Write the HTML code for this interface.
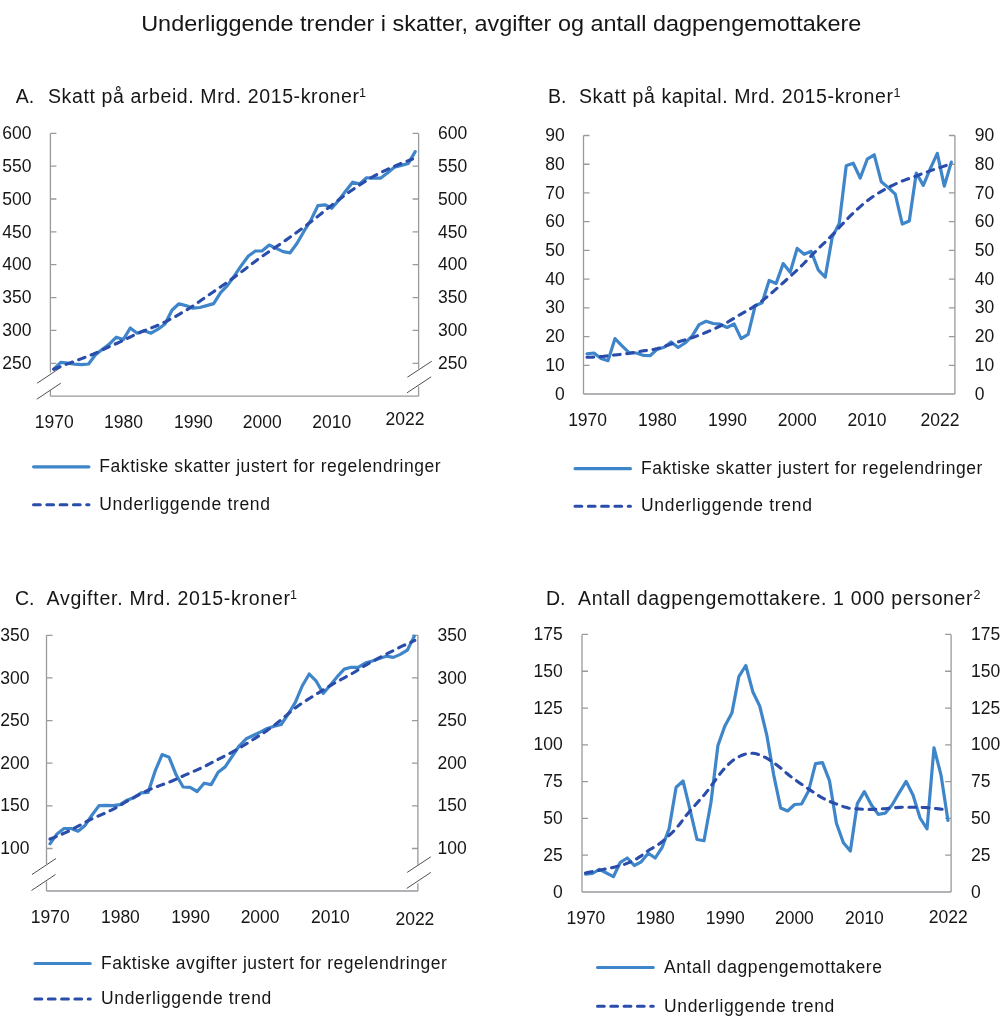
<!DOCTYPE html>
<html><head><meta charset="utf-8"><title>Underliggende trender</title>
<style>html,body{margin:0;padding:0;background:#fff;} svg{display:block;will-change:transform;}</style>
</head><body>
<svg width="1000" height="1029" viewBox="0 0 1000 1029">
<rect width="1000" height="1029" fill="#ffffff"/>
<g font-family='"Liberation Sans", sans-serif' fill="#161616">
<text x="141.2" y="31.0" font-size="22" text-anchor="start" textLength="720.2" lengthAdjust="spacingAndGlyphs">Underliggende trender i skatter, avgifter og antall dagpengemottakere</text>
<text x="15.8" y="102.8" font-size="19.5" text-anchor="start">A.</text>
<text x="48.0" y="102.8" font-size="19.5" text-anchor="start" textLength="311" lengthAdjust="spacing">Skatt på arbeid. Mrd. 2015-kroner</text>
<text x="359.0" y="96.5" font-size="12.5" text-anchor="start">1</text>
<text x="548.0" y="102.8" font-size="19.5" text-anchor="start">B.</text>
<text x="579.0" y="102.8" font-size="19.5" text-anchor="start" textLength="314" lengthAdjust="spacing">Skatt på kapital. Mrd. 2015-kroner</text>
<text x="893.5" y="96.5" font-size="12.5" text-anchor="start">1</text>
<text x="15.0" y="605.0" font-size="19.5" text-anchor="start">C.</text>
<text x="46.6" y="605.0" font-size="19.5" text-anchor="start" textLength="243.4" lengthAdjust="spacing">Avgifter. Mrd. 2015-kroner</text>
<text x="290.0" y="598.7" font-size="12.5" text-anchor="start">1</text>
<text x="546.0" y="605.3" font-size="19.5" text-anchor="start">D.</text>
<text x="578.0" y="605.3" font-size="19.5" text-anchor="start" textLength="394.6" lengthAdjust="spacing">Antall dagpengemottakere. 1 000 personer</text>
<text x="973.4" y="598.7" font-size="12.5" text-anchor="start">2</text>
<text x="31.5" y="139.0" font-size="17.5" text-anchor="end">600</text>
<text x="438.0" y="139.0" font-size="17.5" text-anchor="start">600</text>
<text x="31.5" y="171.8" font-size="17.5" text-anchor="end">550</text>
<text x="438.0" y="171.8" font-size="17.5" text-anchor="start">550</text>
<text x="31.5" y="204.6" font-size="17.5" text-anchor="end">500</text>
<text x="438.0" y="204.6" font-size="17.5" text-anchor="start">500</text>
<text x="31.5" y="237.5" font-size="17.5" text-anchor="end">450</text>
<text x="438.0" y="237.5" font-size="17.5" text-anchor="start">450</text>
<text x="31.5" y="270.3" font-size="17.5" text-anchor="end">400</text>
<text x="438.0" y="270.3" font-size="17.5" text-anchor="start">400</text>
<text x="31.5" y="303.2" font-size="17.5" text-anchor="end">350</text>
<text x="438.0" y="303.2" font-size="17.5" text-anchor="start">350</text>
<text x="31.5" y="336.0" font-size="17.5" text-anchor="end">300</text>
<text x="438.0" y="336.0" font-size="17.5" text-anchor="start">300</text>
<text x="31.5" y="368.9" font-size="17.5" text-anchor="end">250</text>
<text x="438.0" y="368.9" font-size="17.5" text-anchor="start">250</text>
<text x="54.2" y="427.5" font-size="17.5" text-anchor="middle">1970</text>
<text x="123.5" y="427.5" font-size="17.5" text-anchor="middle">1980</text>
<text x="193.4" y="427.5" font-size="17.5" text-anchor="middle">1990</text>
<text x="262.2" y="427.5" font-size="17.5" text-anchor="middle">2000</text>
<text x="331.7" y="427.5" font-size="17.5" text-anchor="middle">2010</text>
<text x="405.0" y="424.6" font-size="17.5" text-anchor="middle">2022</text>
<text x="564.8" y="399.6" font-size="17.5" text-anchor="end">0</text>
<text x="974.8" y="399.6" font-size="17.5" text-anchor="start">0</text>
<text x="564.8" y="370.88" font-size="17.5" text-anchor="end">10</text>
<text x="974.8" y="370.88" font-size="17.5" text-anchor="start">10</text>
<text x="564.8" y="342.16" font-size="17.5" text-anchor="end">20</text>
<text x="974.8" y="342.16" font-size="17.5" text-anchor="start">20</text>
<text x="564.8" y="313.44" font-size="17.5" text-anchor="end">30</text>
<text x="974.8" y="313.44" font-size="17.5" text-anchor="start">30</text>
<text x="564.8" y="284.72" font-size="17.5" text-anchor="end">40</text>
<text x="974.8" y="284.72" font-size="17.5" text-anchor="start">40</text>
<text x="564.8" y="256.0" font-size="17.5" text-anchor="end">50</text>
<text x="974.8" y="256.0" font-size="17.5" text-anchor="start">50</text>
<text x="564.8" y="227.28" font-size="17.5" text-anchor="end">60</text>
<text x="974.8" y="227.28" font-size="17.5" text-anchor="start">60</text>
<text x="564.8" y="198.56" font-size="17.5" text-anchor="end">70</text>
<text x="974.8" y="198.56" font-size="17.5" text-anchor="start">70</text>
<text x="564.8" y="169.84" font-size="17.5" text-anchor="end">80</text>
<text x="974.8" y="169.84" font-size="17.5" text-anchor="start">80</text>
<text x="564.8" y="141.12" font-size="17.5" text-anchor="end">90</text>
<text x="974.8" y="141.12" font-size="17.5" text-anchor="start">90</text>
<text x="587.6" y="425.8" font-size="17.5" text-anchor="middle">1970</text>
<text x="657.4" y="425.8" font-size="17.5" text-anchor="middle">1980</text>
<text x="727.5" y="425.8" font-size="17.5" text-anchor="middle">1990</text>
<text x="797.3" y="425.8" font-size="17.5" text-anchor="middle">2000</text>
<text x="867.0" y="425.8" font-size="17.5" text-anchor="middle">2010</text>
<text x="940.0" y="425.5" font-size="17.5" text-anchor="middle">2022</text>
<text x="29.5" y="640.9" font-size="17.5" text-anchor="end">350</text>
<text x="437.5" y="640.9" font-size="17.5" text-anchor="start">350</text>
<text x="29.5" y="683.54" font-size="17.5" text-anchor="end">300</text>
<text x="437.5" y="683.54" font-size="17.5" text-anchor="start">300</text>
<text x="29.5" y="726.18" font-size="17.5" text-anchor="end">250</text>
<text x="437.5" y="726.18" font-size="17.5" text-anchor="start">250</text>
<text x="29.5" y="768.82" font-size="17.5" text-anchor="end">200</text>
<text x="437.5" y="768.82" font-size="17.5" text-anchor="start">200</text>
<text x="29.5" y="811.46" font-size="17.5" text-anchor="end">150</text>
<text x="437.5" y="811.46" font-size="17.5" text-anchor="start">150</text>
<text x="29.5" y="854.1" font-size="17.5" text-anchor="end">100</text>
<text x="437.5" y="854.1" font-size="17.5" text-anchor="start">100</text>
<text x="50.3" y="922.6" font-size="17.5" text-anchor="middle">1970</text>
<text x="120.4" y="922.6" font-size="17.5" text-anchor="middle">1980</text>
<text x="190.6" y="922.6" font-size="17.5" text-anchor="middle">1990</text>
<text x="260.1" y="922.6" font-size="17.5" text-anchor="middle">2000</text>
<text x="330.4" y="922.6" font-size="17.5" text-anchor="middle">2010</text>
<text x="414.9" y="924.8" font-size="17.5" text-anchor="middle">2022</text>
<text x="562.8" y="897.6" font-size="17.5" text-anchor="end">0</text>
<text x="971.0" y="897.6" font-size="17.5" text-anchor="start">0</text>
<text x="562.8" y="860.81" font-size="17.5" text-anchor="end">25</text>
<text x="971.0" y="860.81" font-size="17.5" text-anchor="start">25</text>
<text x="562.8" y="824.02" font-size="17.5" text-anchor="end">50</text>
<text x="971.0" y="824.02" font-size="17.5" text-anchor="start">50</text>
<text x="562.8" y="787.23" font-size="17.5" text-anchor="end">75</text>
<text x="971.0" y="787.23" font-size="17.5" text-anchor="start">75</text>
<text x="562.8" y="750.44" font-size="17.5" text-anchor="end">100</text>
<text x="971.0" y="750.44" font-size="17.5" text-anchor="start">100</text>
<text x="562.8" y="713.65" font-size="17.5" text-anchor="end">125</text>
<text x="971.0" y="713.65" font-size="17.5" text-anchor="start">125</text>
<text x="562.8" y="676.86" font-size="17.5" text-anchor="end">150</text>
<text x="971.0" y="676.86" font-size="17.5" text-anchor="start">150</text>
<text x="562.8" y="640.07" font-size="17.5" text-anchor="end">175</text>
<text x="971.0" y="640.07" font-size="17.5" text-anchor="start">175</text>
<text x="585.9" y="924.1" font-size="17.5" text-anchor="middle">1970</text>
<text x="655.4" y="924.1" font-size="17.5" text-anchor="middle">1980</text>
<text x="725.3" y="924.1" font-size="17.5" text-anchor="middle">1990</text>
<text x="794.4" y="924.1" font-size="17.5" text-anchor="middle">2000</text>
<text x="864.4" y="924.1" font-size="17.5" text-anchor="middle">2010</text>
<text x="948.3" y="922.6" font-size="17.5" text-anchor="middle">2022</text>
</g>
<path d="M50.4,133.4 V372.4 M50.4,390.4 V396.2 M418.6,133.4 V368.8 M418.6,386.4 V396.2 M50.4,396.2 H418.6 M50.4,133.40 h6 M418.6,133.40 h-6 M50.4,166.20 h6 M418.6,166.20 h-6 M50.4,199.00 h6 M418.6,199.00 h-6 M50.4,231.90 h6 M418.6,231.90 h-6 M50.4,264.70 h6 M418.6,264.70 h-6 M50.4,297.60 h6 M418.6,297.60 h-6 M50.4,330.40 h6 M418.6,330.40 h-6 M50.4,363.30 h6 M418.6,363.30 h-6" fill="none" stroke="#989a9e" stroke-width="1.3"/>
<path d="M583.5,135.51999999999998 V394.0 M954.9,135.51999999999998 V394.0 M583.5,394.0 H954.9 M583.5,365.28 h6 M954.9,365.28 h-6 M583.5,336.56 h6 M954.9,336.56 h-6 M583.5,307.84 h6 M954.9,307.84 h-6 M583.5,279.12 h6 M954.9,279.12 h-6 M583.5,250.40 h6 M954.9,250.40 h-6 M583.5,221.68 h6 M954.9,221.68 h-6 M583.5,192.96 h6 M954.9,192.96 h-6 M583.5,164.24 h6 M954.9,164.24 h-6 M583.5,135.52 h6 M954.9,135.52 h-6" fill="none" stroke="#989a9e" stroke-width="1.3"/>
<path d="M46.5,635.3 V864.0 M46.5,881.5 V891.0 M417.9,635.3 V864.8 M417.9,883.2 V891.0 M46.5,891.0 H417.9 M46.5,635.30 h6 M417.9,635.30 h-6 M46.5,677.94 h6 M417.9,677.94 h-6 M46.5,720.58 h6 M417.9,720.58 h-6 M46.5,763.22 h6 M417.9,763.22 h-6 M46.5,805.86 h6 M417.9,805.86 h-6 M46.5,848.50 h6 M417.9,848.50 h-6" fill="none" stroke="#989a9e" stroke-width="1.3"/>
<path d="M582.0,634.47 V892.0 M951.1,634.47 V892.0 M582.0,892.0 H951.1 M582.0,855.21 h6 M951.1,855.21 h-6 M582.0,818.42 h6 M951.1,818.42 h-6 M582.0,781.63 h6 M951.1,781.63 h-6 M582.0,744.84 h6 M951.1,744.84 h-6 M582.0,708.05 h6 M951.1,708.05 h-6 M582.0,671.26 h6 M951.1,671.26 h-6 M582.0,634.47 h6 M951.1,634.47 h-6" fill="none" stroke="#989a9e" stroke-width="1.3"/>
<line x1="37.2" y1="383.2" x2="61.0" y2="367.3" stroke="#505050" stroke-width="1.0"/>
<line x1="36.8" y1="399.2" x2="60.8" y2="383.2" stroke="#505050" stroke-width="1.0"/>
<line x1="407.4" y1="377.2" x2="431.8" y2="361.2" stroke="#505050" stroke-width="1.0"/>
<line x1="407.0" y1="392.8" x2="431.2" y2="376.8" stroke="#505050" stroke-width="1.0"/>
<line x1="32.0" y1="874.5" x2="56.0" y2="858.5" stroke="#505050" stroke-width="1.0"/>
<line x1="31.5" y1="890.5" x2="55.5" y2="874.5" stroke="#505050" stroke-width="1.0"/>
<line x1="407.2" y1="872.4" x2="430.8" y2="856.8" stroke="#505050" stroke-width="1.0"/>
<line x1="406.8" y1="888.4" x2="430.8" y2="872.4" stroke="#505050" stroke-width="1.0"/>
<polyline points="53.80,369.20 60.75,362.40 67.70,363.20 74.65,364.20 81.60,364.60 88.55,364.00 95.50,354.80 102.45,349.20 109.40,344.00 116.35,337.20 123.30,339.60 130.25,328.00 137.20,333.20 144.15,330.80 151.10,333.20 158.05,329.20 165.00,324.00 171.95,310.20 178.90,303.80 185.85,305.60 192.80,308.20 199.75,307.50 206.70,305.60 213.65,303.60 220.60,292.60 227.55,285.40 234.50,275.60 241.45,265.40 248.40,256.00 255.35,251.00 262.30,250.80 269.25,245.00 276.20,248.40 283.15,251.60 290.10,252.80 297.05,243.20 304.00,231.20 310.95,220.00 317.90,205.60 324.85,204.80 331.80,208.30 338.75,200.20 345.70,191.00 352.65,182.20 359.60,183.90 366.55,177.75 373.50,178.20 380.45,178.20 387.40,173.00 394.35,167.30 401.30,165.40 408.25,163.50 415.20,151.60" fill="none" stroke="#3f85c9" stroke-width="3.2" stroke-linejoin="round" stroke-linecap="round"/>
<polyline points="53.80,369.20 56.81,368.01 59.83,366.82 62.84,365.65 65.86,364.49 68.87,363.33 71.89,362.19 74.90,361.07 77.91,359.96 80.93,358.87 83.94,357.77 86.96,356.65 89.97,355.48 92.99,354.23 96.00,352.89 99.01,351.49 102.03,350.06 105.04,348.63 108.06,347.24 111.07,345.89 114.09,344.56 117.10,343.22 120.11,341.84 123.13,340.42 126.14,338.97 129.16,337.51 132.17,336.04 135.19,334.60 138.20,333.22 141.21,331.93 144.23,330.72 147.24,329.54 150.26,328.37 153.27,327.18 156.29,325.95 159.30,324.65 162.31,323.27 165.33,321.81 168.34,320.27 171.36,318.67 174.37,317.02 177.39,315.33 180.40,313.61 183.41,311.87 186.43,310.08 189.44,308.22 192.46,306.27 195.47,304.25 198.49,302.16 201.50,300.05 204.51,297.93 207.53,295.82 210.54,293.74 213.56,291.69 216.57,289.65 219.59,287.60 222.60,285.53 225.61,283.43 228.63,281.29 231.64,279.12 234.66,276.91 237.67,274.68 240.69,272.42 243.70,270.15 246.71,267.86 249.73,265.55 252.74,263.24 255.76,260.95 258.77,258.71 261.79,256.55 264.80,254.45 267.81,252.41 270.83,250.40 273.84,248.41 276.86,246.40 279.87,244.34 282.89,242.24 285.90,240.12 288.91,237.98 291.93,235.84 294.94,233.69 297.96,231.53 300.97,229.34 303.99,227.11 307.00,224.85 310.01,222.55 313.03,220.21 316.04,217.83 319.06,215.40 322.07,212.94 325.09,210.49 328.10,208.06 331.11,205.67 334.13,203.31 337.14,200.99 340.16,198.70 343.17,196.46 346.19,194.26 349.20,192.10 352.21,189.99 355.23,187.92 358.24,185.89 361.26,183.90 364.27,181.94 367.29,180.04 370.30,178.21 373.31,176.47 376.33,174.83 379.34,173.27 382.36,171.78 385.37,170.33 388.39,168.93 391.40,167.56 394.41,166.23 397.43,164.95 400.44,163.71 403.46,162.52 406.47,161.36 409.49,160.22 412.50,159.05" fill="none" stroke="#2a4caa" stroke-width="3.1" stroke-linejoin="round" stroke-linecap="round" stroke-dasharray="6.7 6.6"/>
<polyline points="587.00,353.90 594.01,353.00 601.01,358.40 608.02,360.70 615.02,338.60 622.03,345.80 629.04,352.60 636.04,353.00 643.05,355.30 650.05,355.70 657.06,349.40 664.07,347.30 671.07,342.00 678.08,347.50 685.08,343.00 692.09,336.20 699.10,324.60 706.10,321.30 713.11,323.50 720.11,324.20 727.12,327.50 734.13,323.90 741.13,338.60 748.14,334.30 755.14,305.80 762.15,302.70 769.16,280.50 776.16,283.40 783.17,263.60 790.17,272.30 797.18,248.40 804.19,254.30 811.19,251.30 818.20,269.80 825.20,277.10 832.21,237.20 839.22,223.40 846.22,165.70 853.23,163.20 860.23,178.00 867.24,159.20 874.25,154.80 881.25,181.70 888.26,187.60 895.26,194.10 902.27,224.00 909.28,221.10 916.28,173.00 923.29,185.40 930.29,168.60 937.30,153.30 944.31,186.10 951.31,162.10" fill="none" stroke="#3f85c9" stroke-width="3.2" stroke-linejoin="round" stroke-linecap="round"/>
<polyline points="587.00,357.30 590.06,357.22 593.12,357.09 596.18,356.91 599.25,356.69 602.31,356.42 605.37,356.11 608.43,355.75 611.49,355.38 614.55,355.03 617.61,354.70 620.67,354.37 623.74,354.03 626.80,353.65 629.86,353.20 632.92,352.68 635.98,352.13 639.04,351.58 642.10,351.07 645.17,350.62 648.23,350.23 651.29,349.82 654.35,349.27 657.41,348.57 660.47,347.72 663.53,346.75 666.59,345.69 669.66,344.61 672.72,343.60 675.78,342.65 678.84,341.74 681.90,340.84 684.96,339.92 688.02,338.98 691.09,337.99 694.15,336.94 697.21,335.84 700.27,334.69 703.33,333.49 706.39,332.24 709.45,330.94 712.52,329.58 715.58,328.19 718.64,326.74 721.70,325.24 724.76,323.66 727.82,321.97 730.88,320.18 733.94,318.35 737.01,316.50 740.07,314.67 743.13,312.90 746.19,311.17 749.25,309.44 752.31,307.62 755.37,305.67 758.44,303.56 761.50,301.30 764.56,298.89 767.62,296.37 770.68,293.77 773.74,291.12 776.80,288.45 779.86,285.74 782.93,282.99 785.99,280.23 789.05,277.46 792.11,274.68 795.17,271.88 798.23,269.02 801.29,266.06 804.36,262.97 807.42,259.80 810.48,256.61 813.54,253.45 816.60,250.34 819.66,247.31 822.72,244.38 825.78,241.47 828.85,238.50 831.91,235.43 834.97,232.25 838.03,228.94 841.09,225.56 844.15,222.20 847.21,218.99 850.28,215.91 853.34,212.96 856.40,210.10 859.46,207.33 862.52,204.68 865.58,202.14 868.64,199.74 871.71,197.49 874.77,195.39 877.83,193.44 880.89,191.60 883.95,189.86 887.01,188.18 890.07,186.57 893.13,185.04 896.20,183.60 899.26,182.25 902.32,180.99 905.38,179.83 908.44,178.75 911.50,177.70 914.56,176.60 917.63,175.47 920.69,174.31 923.75,173.15 926.81,172.01 929.87,170.91 932.93,169.85 935.99,168.84 939.05,167.86 942.12,166.88 945.18,165.83 948.24,164.65 951.30,163.22" fill="none" stroke="#2a4caa" stroke-width="3.1" stroke-linejoin="round" stroke-linecap="round" stroke-dasharray="6.7 6.6"/>
<polyline points="50.00,843.80 57.01,833.90 64.01,828.50 71.02,828.50 78.02,831.20 85.03,825.40 92.04,815.00 99.04,805.60 106.05,805.40 113.05,805.60 120.06,804.70 127.07,800.20 134.07,797.50 141.08,792.80 148.08,792.40 155.09,771.20 162.10,754.60 169.10,757.30 176.11,774.80 183.11,787.00 190.12,787.40 197.13,791.50 204.13,783.20 211.14,784.60 218.14,772.20 225.15,766.90 232.16,756.40 239.16,746.00 246.17,738.80 253.17,735.50 260.18,732.10 267.19,728.50 274.19,726.30 281.20,724.50 288.20,714.00 295.21,702.60 302.22,686.00 309.22,674.00 316.23,681.20 323.23,693.40 330.24,685.30 337.25,676.70 344.25,669.10 351.26,667.30 358.26,667.30 365.27,663.00 372.28,661.00 379.28,658.60 386.29,656.20 393.29,657.40 400.30,654.40 407.31,650.20 414.31,636.10" fill="none" stroke="#3f85c9" stroke-width="3.2" stroke-linejoin="round" stroke-linecap="round"/>
<polyline points="50.00,839.06 53.07,837.83 56.13,836.60 59.20,835.35 62.26,834.05 65.33,832.69 68.39,831.25 71.46,829.73 74.52,828.12 77.59,826.45 80.66,824.75 83.72,823.05 86.79,821.41 89.85,819.85 92.92,818.40 95.98,817.04 99.05,815.73 102.11,814.41 105.18,813.04 108.25,811.62 111.31,810.14 114.38,808.56 117.44,806.87 120.51,805.08 123.57,803.26 126.64,801.47 129.70,799.74 132.77,798.06 135.84,796.41 138.90,794.80 141.97,793.20 145.03,791.66 148.10,790.22 151.16,788.88 154.23,787.63 157.29,786.47 160.36,785.36 163.43,784.28 166.49,783.18 169.56,782.00 172.62,780.72 175.69,779.36 178.75,777.95 181.82,776.55 184.88,775.19 187.95,773.87 191.02,772.57 194.08,771.24 197.15,769.88 200.21,768.47 203.28,767.01 206.34,765.49 209.41,763.93 212.47,762.35 215.54,760.76 218.61,759.18 221.67,757.60 224.74,756.03 227.80,754.45 230.87,752.84 233.93,751.18 237.00,749.45 240.06,747.65 243.13,745.79 246.19,743.89 249.26,741.97 252.33,740.03 255.39,738.09 258.46,736.14 261.52,734.19 264.59,732.19 267.65,730.11 270.72,727.92 273.78,725.63 276.85,723.24 279.92,720.78 282.98,718.23 286.05,715.62 289.11,713.00 292.18,710.46 295.24,708.03 298.31,705.76 301.37,703.61 304.44,701.59 307.51,699.65 310.57,697.76 313.64,695.88 316.70,693.98 319.77,692.07 322.83,690.16 325.90,688.26 328.96,686.39 332.03,684.55 335.10,682.77 338.16,681.05 341.23,679.40 344.29,677.79 347.36,676.18 350.42,674.51 353.49,672.72 356.55,670.84 359.62,668.91 362.69,667.00 365.75,665.15 368.82,663.38 371.88,661.68 374.95,660.06 378.01,658.47 381.08,656.88 384.14,655.29 387.21,653.69 390.28,652.09 393.34,650.50 396.41,648.94 399.47,647.43 402.54,645.97 405.60,644.57 408.67,643.22 411.73,641.87 414.80,640.46" fill="none" stroke="#2a4caa" stroke-width="3.1" stroke-linejoin="round" stroke-linecap="round" stroke-dasharray="6.7 6.6"/>
<polyline points="585.50,874.10 592.47,873.50 599.44,869.30 606.41,873.00 613.38,876.70 620.35,862.30 627.32,858.00 634.29,865.50 641.26,861.80 648.23,853.20 655.20,858.00 662.17,847.30 669.14,828.60 676.11,787.20 683.08,781.00 690.05,809.80 697.02,839.50 703.99,840.80 710.96,802.50 717.93,745.50 724.90,725.90 731.87,713.10 738.84,676.70 745.81,665.50 752.78,691.70 759.75,706.10 766.72,734.80 773.69,774.80 780.66,808.00 787.63,811.00 794.60,804.50 801.57,804.00 808.54,791.10 815.51,763.70 822.48,762.60 829.45,780.60 836.42,823.30 843.39,842.80 850.36,851.00 857.33,803.60 864.30,791.60 871.27,804.80 878.24,814.40 885.21,813.20 892.18,804.80 899.15,792.80 906.12,781.40 913.09,795.20 920.06,818.00 927.03,828.80 934.00,747.80 940.97,774.80 947.94,820.40" fill="none" stroke="#3f85c9" stroke-width="3.2" stroke-linejoin="round" stroke-linecap="round"/>
<polyline points="585.50,872.96 588.55,872.37 591.60,871.77 594.64,871.17 597.69,870.56 600.74,869.94 603.79,869.31 606.84,868.73 609.88,868.12 612.93,867.41 615.98,866.65 619.03,865.85 622.07,865.13 625.12,864.12 628.17,862.92 631.22,861.57 634.27,860.09 637.31,858.36 640.36,856.41 643.41,854.16 646.46,851.80 649.51,849.74 652.55,848.03 655.60,846.44 658.65,844.43 661.70,842.06 664.75,839.39 667.79,836.62 670.84,833.76 673.89,830.83 676.94,827.53 679.98,823.78 683.03,819.65 686.08,815.63 689.13,811.92 692.18,808.49 695.22,805.08 698.27,801.64 701.32,798.25 704.37,794.72 707.42,790.90 710.46,786.86 713.51,782.72 716.56,778.55 719.61,774.42 722.66,770.59 725.70,767.12 728.75,763.99 731.80,761.29 734.85,759.02 737.89,757.19 740.94,755.71 743.99,754.53 747.04,753.64 750.09,753.17 753.13,753.22 756.18,753.79 759.23,754.74 762.28,755.96 765.33,757.44 768.37,759.14 771.42,761.07 774.47,763.24 777.52,765.56 780.57,767.97 783.61,770.62 786.66,773.33 789.71,775.79 792.76,778.10 795.81,780.27 798.85,782.41 801.90,784.52 804.95,786.58 808.00,788.61 811.04,790.63 814.09,792.66 817.14,794.78 820.19,796.68 823.24,798.40 826.28,800.00 829.33,801.32 832.38,802.49 835.43,803.63 838.48,804.66 841.52,805.93 844.57,807.08 847.62,807.87 850.67,808.44 853.72,808.68 856.76,808.84 859.81,809.06 862.86,809.23 865.91,809.34 868.95,809.40 872.00,809.39 875.05,809.32 878.10,809.15 881.15,808.88 884.19,808.68 887.24,808.47 890.29,808.23 893.34,807.86 896.39,807.59 899.43,807.42 902.48,807.29 905.53,807.20 908.58,807.18 911.63,807.18 914.67,807.21 917.72,807.27 920.77,807.37 923.82,807.49 926.86,807.67 929.91,807.90 932.96,808.18 936.01,808.50 939.06,808.86 942.10,809.27 945.15,809.73 948.20,810.22" fill="none" stroke="#2a4caa" stroke-width="3.1" stroke-linejoin="round" stroke-linecap="round" stroke-dasharray="6.7 6.6"/>
<g font-family='"Liberation Sans", sans-serif' fill="#161616">
<text x="99.3" y="472.0" font-size="17.5" text-anchor="start" textLength="341.4" lengthAdjust="spacing">Faktiske skatter justert for regelendringer</text>
<text x="99.3" y="510.0" font-size="17.5" text-anchor="start" textLength="170.7" lengthAdjust="spacing">Underliggende trend</text>
<text x="641.0" y="474.0" font-size="17.5" text-anchor="start" textLength="341.4" lengthAdjust="spacing">Faktiske skatter justert for regelendringer</text>
<text x="641.0" y="511.2" font-size="17.5" text-anchor="start" textLength="170.9" lengthAdjust="spacing">Underliggende trend</text>
<text x="101.0" y="968.8" font-size="17.5" text-anchor="start" textLength="345.9" lengthAdjust="spacing">Faktiske avgifter justert for regelendringer</text>
<text x="101.0" y="1004.0" font-size="17.5" text-anchor="start" textLength="170.3" lengthAdjust="spacing">Underliggende trend</text>
<text x="664.0" y="973.0" font-size="17.5" text-anchor="start" textLength="218.0" lengthAdjust="spacing">Antall dagpengemottakere</text>
<text x="664.0" y="1011.5" font-size="17.5" text-anchor="start" textLength="170.3" lengthAdjust="spacing">Underliggende trend</text>
</g>
<polyline points="33.60,466.80 88.90,466.80" fill="none" stroke="#3f85c9" stroke-width="3.2" stroke-linejoin="round" stroke-linecap="round"/>
<polyline points="33.55,504.80 88.95,504.80" fill="none" stroke="#2a4caa" stroke-width="3.1" stroke-linejoin="round" stroke-linecap="round" stroke-dasharray="6.7 6.6"/>
<polyline points="575.10,468.70 630.40,468.70" fill="none" stroke="#3f85c9" stroke-width="3.2" stroke-linejoin="round" stroke-linecap="round"/>
<polyline points="575.05,506.30 630.45,506.30" fill="none" stroke="#2a4caa" stroke-width="3.1" stroke-linejoin="round" stroke-linecap="round" stroke-dasharray="6.7 6.6"/>
<polyline points="35.10,963.50 90.20,963.50" fill="none" stroke="#3f85c9" stroke-width="3.2" stroke-linejoin="round" stroke-linecap="round"/>
<polyline points="35.05,999.00 90.25,999.00" fill="none" stroke="#2a4caa" stroke-width="3.1" stroke-linejoin="round" stroke-linecap="round" stroke-dasharray="6.7 6.6"/>
<polyline points="597.60,967.50 653.20,967.50" fill="none" stroke="#3f85c9" stroke-width="3.2" stroke-linejoin="round" stroke-linecap="round"/>
<polyline points="597.55,1006.20 653.25,1006.20" fill="none" stroke="#2a4caa" stroke-width="3.1" stroke-linejoin="round" stroke-linecap="round" stroke-dasharray="6.7 6.6"/>
</svg>
</body></html>
